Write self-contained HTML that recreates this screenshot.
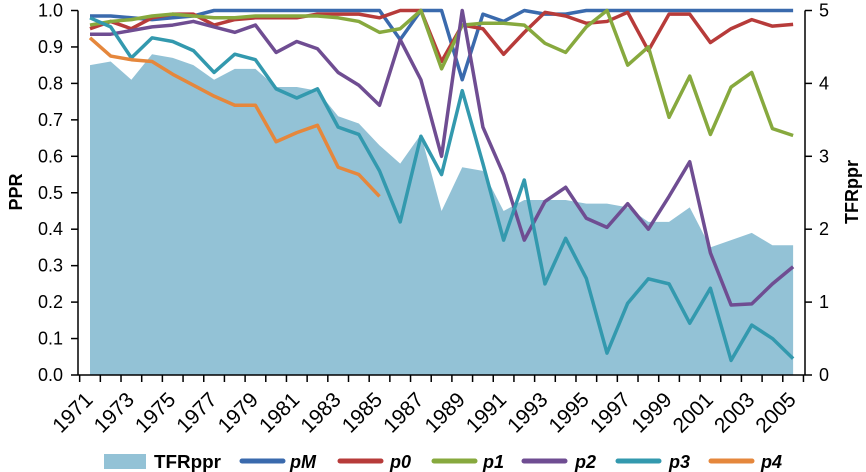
<!DOCTYPE html>
<html><head><meta charset="utf-8"><style>
body{margin:0;background:#fff;}
svg{display:block;font-family:"Liberation Sans",Arial,sans-serif;}
</style></head><body>
<svg id="chart" width="866" height="472" viewBox="0 0 866 472">
<g id="area"></g><g id="lines"></g><g id="axes"></g><g id="legend"></g>
</svg>
<script>
const years=[];for(let y=1971;y<=2005;y++)years.push(y);
const tfr=[4.25,4.3,4.05,4.4,4.35,4.25,4.05,4.2,4.2,3.95,3.95,3.9,3.55,3.45,3.15,2.9,3.3,2.25,2.85,2.8,2.25,2.4,2.4,2.4,2.35,2.35,2.3,2.1,2.1,2.3,1.75,1.85,1.95,1.78,1.78];
const pM=[0.985,0.985,0.98,0.975,0.98,0.985,1,1,1,1,1,1,1,1,1,0.92,1,1,0.81,0.99,0.97,1,0.99,0.99,1,1,1,1,1,1,1,1,1,1,1];
const p0=[0.95,0.97,0.95,0.98,0.99,0.99,0.96,0.975,0.98,0.98,0.98,0.99,0.99,0.99,0.98,1,1,0.86,0.96,0.95,0.88,0.94,0.995,0.985,0.965,0.97,0.995,0.89,0.99,0.99,0.912,0.95,0.975,0.957,0.962];
const p1=[0.96,0.97,0.975,0.985,0.99,0.985,0.98,0.98,0.985,0.985,0.985,0.985,0.98,0.97,0.94,0.95,1,0.84,0.96,0.965,0.965,0.96,0.91,0.885,0.955,1,0.85,0.9,0.707,0.82,0.66,0.79,0.83,0.676,0.657];
const p2=[0.935,0.935,0.945,0.955,0.96,0.97,0.955,0.94,0.96,0.885,0.915,0.895,0.83,0.795,0.74,0.92,0.81,0.6,1,0.68,0.55,0.37,0.476,0.515,0.43,0.405,0.47,0.4,0.49,0.585,0.335,0.192,0.195,0.25,0.297];
const p3=[0.98,0.955,0.87,0.925,0.915,0.89,0.83,0.88,0.865,0.785,0.76,0.785,0.68,0.66,0.56,0.42,0.655,0.55,0.78,0.58,0.37,0.535,0.25,0.375,0.265,0.06,0.197,0.264,0.25,0.142,0.238,0.04,0.137,0.1,0.045];
const p4=[0.925,0.875,0.865,0.86,0.825,0.795,0.765,0.74,0.74,0.64,0.665,0.685,0.57,0.55,0.49];
const leftTicks=["0.0","0.1","0.2","0.3","0.4","0.5","0.6","0.7","0.8","0.9","1.0"];
const rightTicks=["0","1","2","3","4","5"];
const NS="http://www.w3.org/2000/svg";
const X0=90,STEP=20.68,Y0=375,Y1=10.5;
const x=i=>X0+STEP*i;
const yL=v=>Y0-(Y0-Y1)*v;
const yR=v=>Y0-(Y0-Y1)*v/5;
function mk(tag,attrs,parent){const e=document.createElementNS(NS,tag);for(const k in attrs)e.setAttribute(k,attrs[k]);parent.appendChild(e);return e;}
const area=document.getElementById('area'),lines=document.getElementById('lines'),axes=document.getElementById('axes'),legend=document.getElementById('legend');
let d=`M${x(0)},${Y0}`;tfr.forEach((v,i)=>d+=` L${x(i)},${yR(v)}`);d+=` L${x(tfr.length-1)},${Y0} Z`;
const ar=mk('path',{d:d,fill:'#93c2d6'},area);


const series=[["pM",pM,"#3a6aad"],["p0",p0,"#b73b3a"],["p1",p1,"#87a93e"],["p2",p2,"#6f4d92"],["p3",p3,"#3399ae"],["p4",p4,"#e5873c"]];
series.forEach(s=>{
  const pts=s[1].map((v,i)=>x(i)+','+yL(v)).join(' ');
  const pl=mk('polyline',{points:pts,fill:'none',stroke:s[2],'stroke-width':3.5,'stroke-linejoin':'round'},lines);
  
  
});
mk('line',{x1:78,y1:Y0,x2:805,y2:Y0,stroke:'#000','stroke-width':1.5},axes);
mk('line',{x1:78,y1:Y1,x2:78,y2:Y0,stroke:'#000','stroke-width':1.5},axes);
mk('line',{x1:805,y1:Y1,x2:805,y2:Y0,stroke:'#000','stroke-width':1.5},axes);
leftTicks.forEach((t,i)=>{
  const v=parseFloat(t),yy=yL(v);
  mk('line',{x1:71,y1:yy,x2:78,y2:yy,stroke:'#000','stroke-width':1.5},axes);
  const tx=mk('text',{x:63,y:yy+6,'text-anchor':'end','font-size':18},axes);tx.textContent=t;
  
  
});
rightTicks.forEach(t=>{
  const yy=yR(parseFloat(t));
  mk('line',{x1:805,y1:yy,x2:812,y2:yy,stroke:'#000','stroke-width':1.5},axes);
  const tx=mk('text',{x:819,y:yy+6,'font-size':18},axes);tx.textContent=t;
  
  
});
for(let k=0;k<=years.length;k++){const xx=x(k)-STEP/2;mk('line',{x1:xx,y1:Y0,x2:xx,y2:382,stroke:'#000','stroke-width':1.5},axes);}
years.forEach((yr,i)=>{if(yr%2===0)return;
  const ax=x(i)+4,ay=401;
  const tx=mk('text',{x:ax,y:ay,'text-anchor':'end','font-size':21,transform:`rotate(-45 ${ax} ${ay})`},axes);tx.textContent=yr;
  
  
});
const lt=mk('text',{x:22,y:192,'text-anchor':'middle','font-size':18,'font-weight':'bold',transform:'rotate(-90 22 192)'},axes);lt.textContent='PPR';


const rt=mk('text',{x:858,y:192,'text-anchor':'middle','font-size':18,'font-weight':'bold',transform:'rotate(-90 858 192)'},axes);rt.textContent='TFRppr';


// legend
const sw=mk('rect',{x:104,y:454,width:42,height:15,fill:'#93c2d6'},legend);


const lg0=mk('text',{x:154,y:468,'font-size':18,'font-weight':'bold',textLength:67,lengthAdjust:'spacingAndGlyphs'},legend);lg0.textContent='TFRppr';


const lx=[240,338,432,522,616,709];
const tx=[290,390,483,575,669,761];
series.forEach((s,i)=>{
  const l=mk('line',{x1:lx[i]+2,y1:461,x2:lx[i]+43,y2:461,stroke:s[2],'stroke-width':5,'stroke-linecap':'round'},legend);
  
  
  const t=mk('text',{x:tx[i],y:468,'font-size':18,'font-weight':'bold','font-style':'italic'},legend);t.textContent=s[0];
  
  
});
</script>
</body></html>
